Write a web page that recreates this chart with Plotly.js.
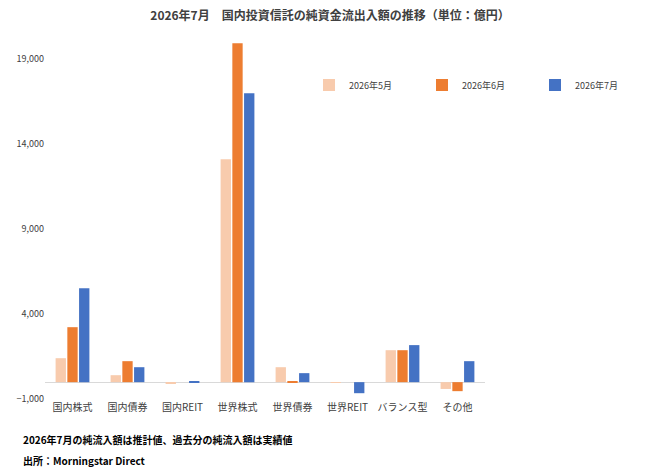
<!DOCTYPE html>
<html><head><meta charset="utf-8">
<script src="https://cdn.plot.ly/plotly-3.0.1.min.js"></script>
<style>body{margin:0;background:#fff}#chart{width:660px;height:470px}</style>
</head><body><div id="chart"></div>
<script>
var categories = ['国内株式','国内債券','国内REIT','世界株式','世界債券','世界REIT','バランス型','その他'];
var may = [1410, 410, -60, 13120, 880, -30, 1880, -400];
var jun = [3235, 1235, 0, 19940, 60, 0, 1880, -530];
var jul = [5530, 880, 60, 17000, 530, -650, 2180, 1235];
var seriesNames = ['2026年5月','2026年6月','2026年7月'];
var colors = ['#F8CBAD','#ED7D31','#4472C4'];

var traces = [may, jun, jul].map(function(v, i){
  return {x: categories, y: v, type: 'bar', name: seriesNames[i], marker: {color: colors[i]}};
});

var layout = {
  width: 660, height: 470,
  margin: {l: 45, r: 20, t: 38, b: 70},
  font: {family: 'Noto Sans CJK JP, sans-serif', size: 10, color: '#404040'},
  title: {text: '<b>2026年7月　国内投資信託の純資金流出入額の推移（単位：億円）</b>', x: 0.5, y: 0.975, font: {size: 12, color: '#404040'}},
  bargap: 0.36, bargroupgap: 0.12,
  xaxis: {showline: false, ticks: '', tickfont: {size: 10}},
  yaxis: {range: [-1050, 20250], tickvals: [-1000, 4000, 9000, 14000, 19000], tickformat: ',',
          showgrid: false, zeroline: true, zerolinecolor: '#d9d9d9', zerolinewidth: 1, tickfont: {size: 9}},
  legend: {orientation: 'h', x: 0.6, y: 0.91, entrywidth: 68, itemwidth: 30, font: {size: 9}},
  plot_bgcolor: '#fff', paper_bgcolor: '#fff',
  annotations: [
    {text: '<b>2026年7月の純流入額は推計値、過去分の純流入額は実績値</b>', xref: 'paper', yref: 'paper', x: -0.055, y: -0.082, xanchor: 'left', yanchor: 'top', showarrow: false, font: {size: 10, color: '#000'}},
    {text: '<b>出所：Morningstar Direct</b>', xref: 'paper', yref: 'paper', x: -0.055, y: -0.14, xanchor: 'left', yanchor: 'top', showarrow: false, font: {size: 10, color: '#000'}}
  ]
};
Plotly.newPlot('chart', traces, layout, {displayModeBar: false});
</script></body></html>
